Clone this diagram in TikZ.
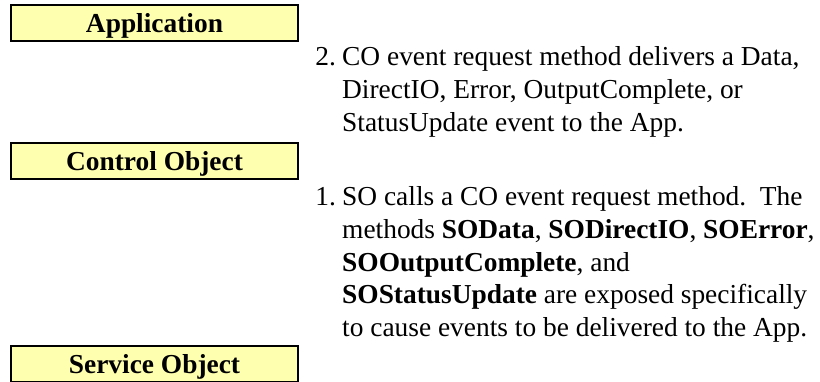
\documentclass[tikz,border=0pt]{standalone}
\usepackage{fontspec}
\setmainfont{Liberation Serif}
\usepackage{tikz}
\definecolor{gelb}{HTML}{FFFFB0}
\tikzset{
  kasten/.style={draw=black,fill=gelb,line width=1.3pt,minimum width=143.5pt,minimum height=18pt,inner sep=0pt,text height=9.6pt,text depth=0pt,font=\fontsize{13.7pt}{16pt}\selectfont\bfseries},
  notiz/.style={anchor=north west,align=left,inner sep=0pt,font=\fontsize{13.7pt}{16.4pt}\selectfont},
}
\newcommand{\nr}[1]{\makebox[13.4pt][l]{#1}}
\newcommand{\ein}{\hspace*{13.4pt}}

\begin{document}
\begin{tikzpicture}[x=0.5pt,y=-0.5pt]
  \useasboundingbox (0,0) rectangle (820,381);
  \clip (0,0) rectangle (820,381);
  % Schichten
  \node[kasten] (app) at (154.5,23) {Application};
  \node[kasten] (co) at (154.5,161) {Control Object};
  \node[kasten] (so) at (154.5,364) {Service Object};
  % Ablauf
  \node[notiz] (schritt2) at (315,46) {\nr{2.}CO event request method delivers a Data,\\
    \ein DirectIO, Error, OutputComplete, or\\
    \ein StatusUpdate event to the App.};
  \node[notiz] (schritt1) at (315,186) {\nr{1.}SO calls a CO event request method.\ \ The\\
    \ein methods \textbf{SOData}, \textbf{SODirectIO}, \textbf{SOError},\\
    \ein \textbf{SOOutputComplete}, and\\
    \ein \textbf{SOStatusUpdate} are exposed specifically\\
    \ein to cause events to be delivered to the App.};
\end{tikzpicture}
\end{document}
